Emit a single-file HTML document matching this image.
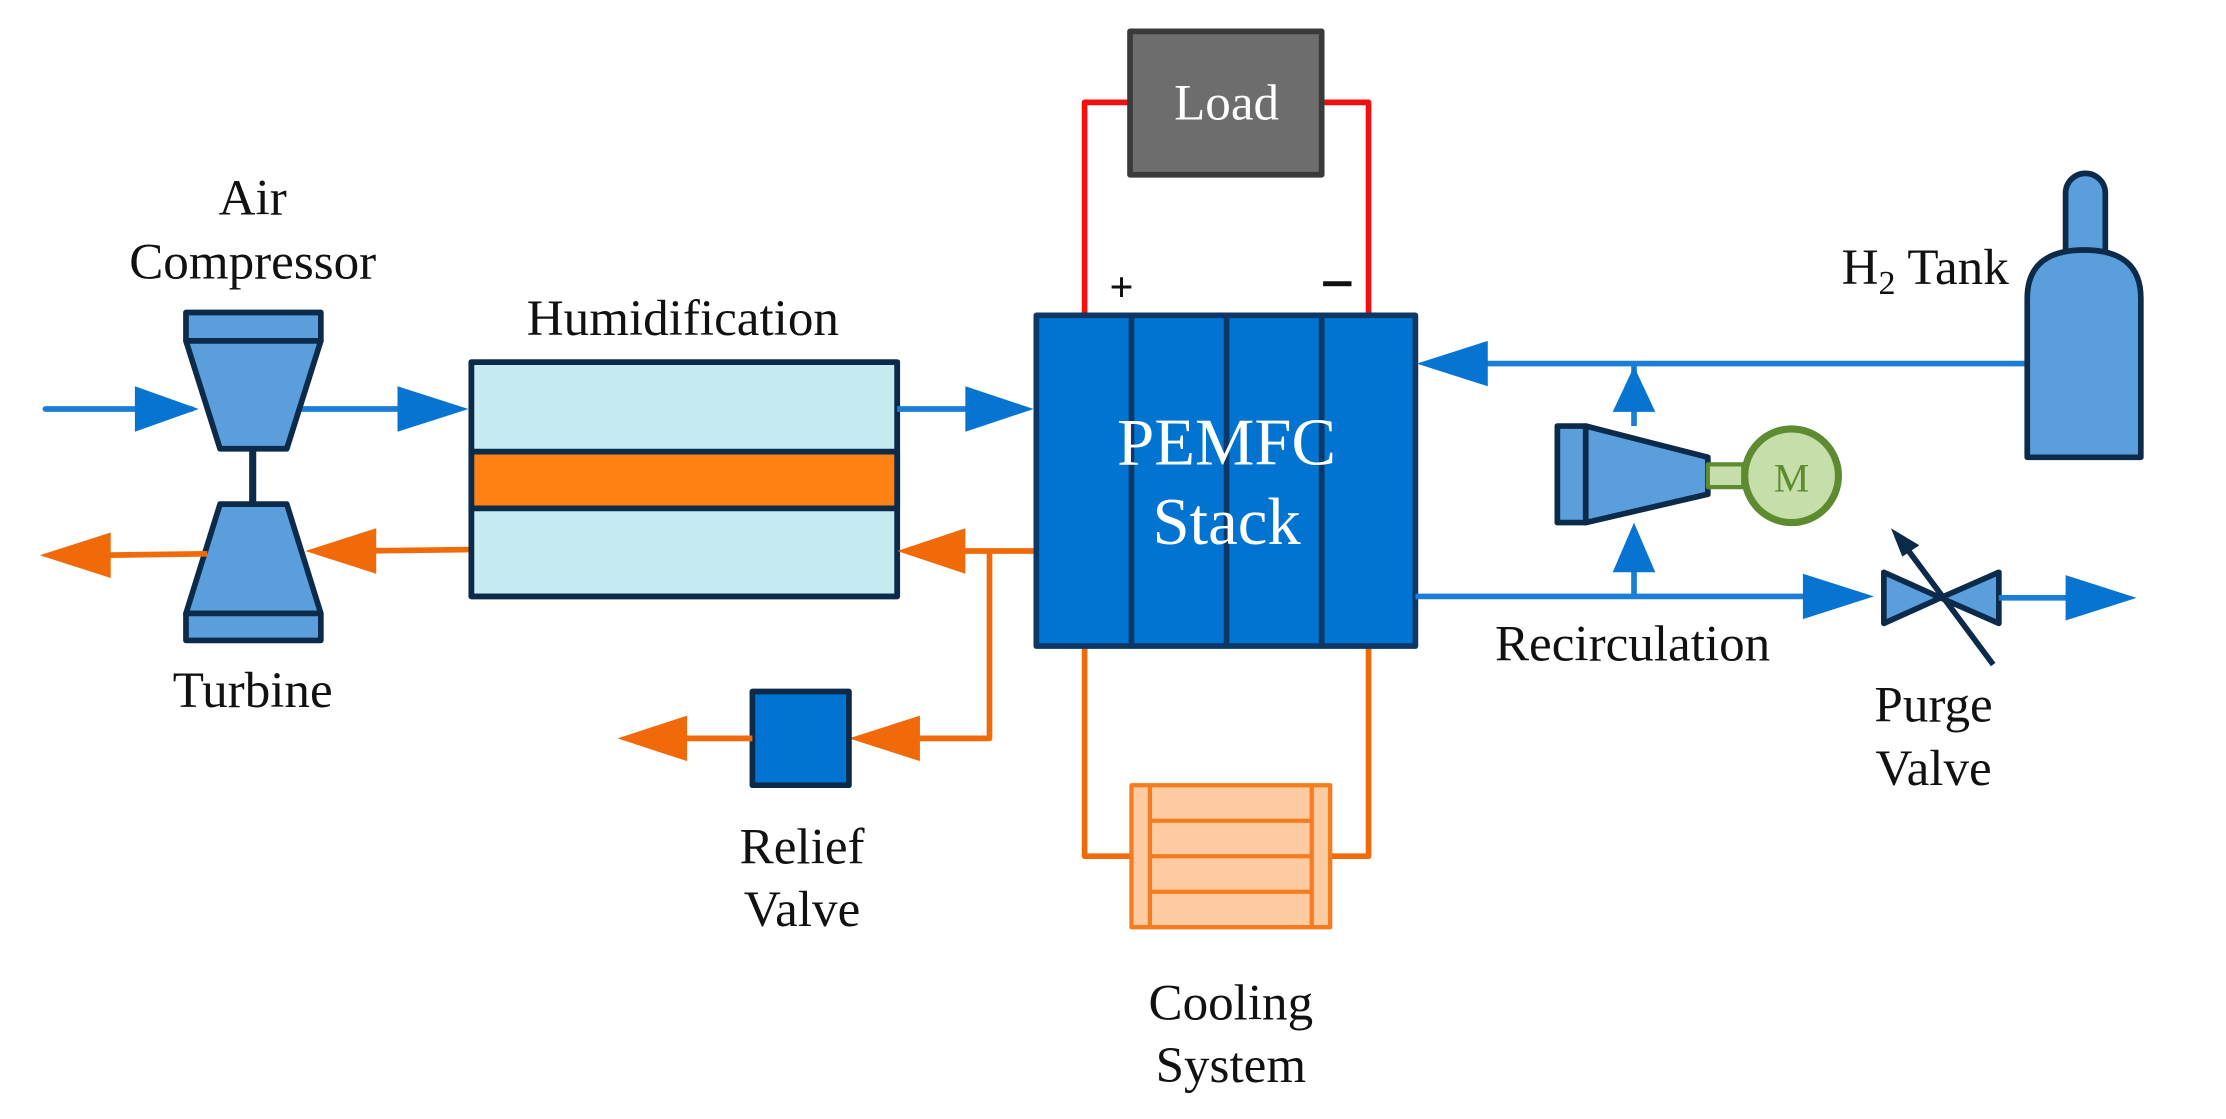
<!DOCTYPE html>
<html><head><meta charset="utf-8"><style>html,body{margin:0;padding:0;background:#fff}svg{display:block}</style></head>
<body>
<svg width="2226" height="1119" viewBox="0 0 1568 788" xmlns="http://www.w3.org/2000/svg" font-family="Liberation Serif, serif">
<rect width="1568" height="788" fill="#fff"/>
<g stroke-linejoin="round">
<line x1="32" y1="288" x2="135" y2="288" stroke="#1a7fd4" stroke-width="4" stroke-linecap="round"/>
<polygon points="95,272 140,288 95,304" fill="#0874d2"/>
<line x1="205" y1="288" x2="300" y2="288" stroke="#1a7fd4" stroke-width="4"/>
<polygon points="280,272 330,288 280,304" fill="#0874d2"/>
<line x1="178" y1="315" x2="178" y2="355" stroke="#0c2a4a" stroke-width="5"/>
<rect x="131" y="220" width="95" height="20" fill="#5a9fdc" stroke="#0c2a4a" stroke-width="4"/>
<polygon points="131,240 226,240 202,316 155,316" fill="#5a9fdc" stroke="#0c2a4a" stroke-width="4"/>
<polygon points="155,355 202,355 226,432 131,432" fill="#5a9fdc" stroke="#0c2a4a" stroke-width="4"/>
<rect x="131" y="432" width="95" height="19" fill="#5a9fdc" stroke="#0c2a4a" stroke-width="4"/>
<line x1="332" y1="387" x2="250" y2="388" stroke="#f06a0a" stroke-width="4"/>
<polygon points="265,372 215,388 265,404" fill="#f06a0a"/>
<line x1="146" y1="390" x2="70" y2="391" stroke="#f06a0a" stroke-width="4"/>
<polygon points="78,375 28,391 78,407" fill="#f06a0a"/>
<rect x="332" y="255" width="300" height="165" fill="#c6ecf1" stroke="#0c2a4a" stroke-width="4"/>
<rect x="332" y="318" width="300" height="40" fill="#fd8113" stroke="#0c2a4a" stroke-width="4"/>
<rect x="332" y="255" width="300" height="165" fill="none" stroke="#0c2a4a" stroke-width="4"/>
<line x1="632" y1="288" x2="700" y2="288" stroke="#1a7fd4" stroke-width="4"/>
<polygon points="680,272 728,288 680,304" fill="#0874d2"/>
<polyline points="730,388 697,388 697,520 640,520" fill="none" stroke="#f06a0a" stroke-width="4"/>
<line x1="697" y1="388" x2="670" y2="388" stroke="#f06a0a" stroke-width="4"/>
<polygon points="680,372 632,388 680,404" fill="#f06a0a"/>
<polygon points="648,504 598,520 648,536" fill="#f06a0a"/>
<rect x="530" y="487" width="68" height="66" fill="#0074d0" stroke="#0c2a4a" stroke-width="4"/>
<line x1="530" y1="520" x2="470" y2="520" stroke="#f06a0a" stroke-width="4"/>
<polygon points="484,504 435,520 484,536" fill="#f06a0a"/>
<polyline points="764,222 764,72 796,72" fill="none" stroke="#f01010" stroke-width="4"/>
<polyline points="931,72 964,72 964,222" fill="none" stroke="#f01010" stroke-width="4"/>
<rect x="796" y="22" width="135" height="101" fill="#6d6d6d" stroke="#3a3a3a" stroke-width="4"/>
<polyline points="764,455 764,603 797,603" fill="none" stroke="#f06a0a" stroke-width="4"/>
<polyline points="964,455 964,603 937,603" fill="none" stroke="#f06a0a" stroke-width="4"/>
<rect x="797" y="553" width="140" height="100" fill="#fecba3" stroke="#f57c1f" stroke-width="3"/>
<line x1="810" y1="553" x2="810" y2="653" stroke="#f57c1f" stroke-width="3"/>
<line x1="924" y1="553" x2="924" y2="653" stroke="#f57c1f" stroke-width="3"/>
<line x1="810" y1="578" x2="924" y2="578" stroke="#f57c1f" stroke-width="3"/>
<line x1="810" y1="603" x2="924" y2="603" stroke="#f57c1f" stroke-width="3"/>
<line x1="810" y1="628" x2="924" y2="628" stroke="#f57c1f" stroke-width="3"/>
<rect x="730" y="222" width="267" height="233" fill="#0074d0" stroke="#0c3766" stroke-width="4"/>
<line x1="797" y1="222" x2="797" y2="455" stroke="#0c3766" stroke-width="4"/>
<line x1="864" y1="222" x2="864" y2="455" stroke="#0c3766" stroke-width="4"/>
<line x1="931" y1="222" x2="931" y2="455" stroke="#0c3766" stroke-width="4"/>
<line x1="1430" y1="256" x2="1030" y2="256" stroke="#1a7fd4" stroke-width="4"/>
<polygon points="1048,240 998,256 1048,272" fill="#0874d2"/>
<line x1="1151" y1="256" x2="1151" y2="300" stroke="#1a7fd4" stroke-width="4"/>
<polygon points="1136,290 1151,258 1166,290" fill="#0874d2"/>
<line x1="997" y1="420" x2="1290" y2="420" stroke="#1a7fd4" stroke-width="4"/>
<polygon points="1270,404 1320,420 1270,436" fill="#0874d2"/>
<line x1="1151" y1="420" x2="1151" y2="375" stroke="#1a7fd4" stroke-width="4"/>
<polygon points="1136,403 1151,368 1166,403" fill="#0874d2"/>
<rect x="1097" y="300" width="20" height="68" fill="#5a9fdc" stroke="#0c2a4a" stroke-width="4"/>
<polygon points="1117,300 1203,322 1203,348 1117,368" fill="#5a9fdc" stroke="#0c2a4a" stroke-width="4"/>
<rect x="1203" y="327" width="25" height="16" fill="#c6dea9" stroke="#5e8a30" stroke-width="3"/>
<circle cx="1262" cy="335" r="33" fill="#c6dea9" stroke="#5e8a30" stroke-width="5"/>
<text x="1262" y="346" font-size="28" fill="#5e8a30" text-anchor="middle">M</text>
<polygon points="1327,403 1367,421 1327,439" fill="#5a9fdc" stroke="#0c2a4a" stroke-width="4"/>
<polygon points="1408,403 1367,421 1408,439" fill="#5a9fdc" stroke="#0c2a4a" stroke-width="4"/>
<line x1="1404" y1="468" x2="1340" y2="382" stroke="#0c2a4a" stroke-width="4"/>
<polygon points="1332,372 1352,384 1340,392" fill="#0c2a4a"/>
<line x1="1408" y1="421" x2="1470" y2="421" stroke="#1a7fd4" stroke-width="4"/>
<polygon points="1455,405 1505,421 1455,437" fill="#0874d2"/>
<path d="M1455,178 L1455,136 A14,14 0 0 1 1483,136 L1483,178 Z" fill="#5a9fdc" stroke="#0c2a4a" stroke-width="4"/>
<path d="M1428,322 L1428,210 Q1428,176 1468,176 Q1508,176 1508,210 L1508,322 Z" fill="#5a9fdc" stroke="#0c2a4a" stroke-width="4"/>
</g>
<g font-size="36" fill="#111" text-anchor="middle">
<text x="178" y="151">Air</text>
<text x="178" y="196">Compressor</text>
<text x="178" y="498">Turbine</text>
<text x="481" y="236">Humidification</text>
<text x="565" y="608">Relief</text>
<text x="565" y="652">Valve</text>
<text x="867" y="718">Cooling</text>
<text x="867" y="762">System</text>
<text x="1150" y="465">Recirculation</text>
<text x="1362" y="508">Purge</text>
<text x="1362" y="553">Valve</text>
<text x="1415" y="200" text-anchor="end">H<tspan font-size="24" dy="7">2</tspan><tspan dy="-7"> Tank</tspan></text>
</g>
<text x="790" y="212" font-size="30" font-weight="bold" fill="#111" text-anchor="middle">+</text>
<rect x="932" y="198" width="20" height="3.5" fill="#111"/>
<text x="864" y="84" font-size="36" fill="#fff" text-anchor="middle">Load</text>
<text x="864" y="327" font-size="47" fill="#fff" text-anchor="middle">PEMFC</text>
<text x="864" y="383" font-size="47" fill="#fff" text-anchor="middle">Stack</text>
</svg>
</body></html>
